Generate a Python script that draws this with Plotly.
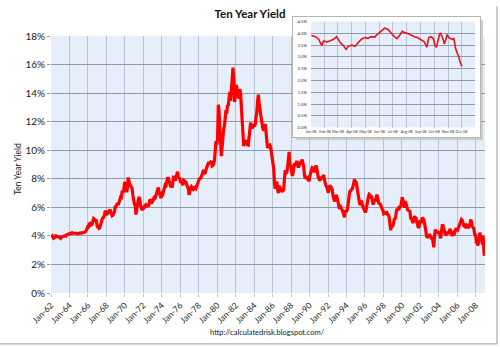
import plotly.graph_objects as go
import pandas as pd

# ---------------- data ----------------
# Monthly ten-year yield, Jan 1962 .. Dec 2007 (percent)
y1962 = [4.08, 4.04, 3.93, 3.84, 3.87, 3.91, 4.01, 3.98, 3.98, 3.93, 3.92, 3.86]
y1963 = [3.83, 3.92, 3.93, 3.97, 3.93, 3.99, 4.02, 4.00, 4.08, 4.11, 4.12, 4.13]
y1964 = [4.17, 4.15, 4.22, 4.23, 4.20, 4.17, 4.19, 4.19, 4.20, 4.19, 4.15, 4.18]
y1965 = [4.19, 4.21, 4.21, 4.20, 4.21, 4.21, 4.20, 4.25, 4.29, 4.35, 4.45, 4.62]
y1966 = [4.61, 4.83, 4.87, 4.75, 4.78, 4.81, 5.02, 5.22, 5.18, 5.01, 5.16, 4.84]
y1967 = [4.58, 4.63, 4.54, 4.59, 4.85, 5.02, 5.16, 5.28, 5.30, 5.48, 5.75, 5.70]
y1968 = [5.53, 5.56, 5.74, 5.64, 5.87, 5.72, 5.50, 5.42, 5.46, 5.58, 5.70, 6.03]
y1969 = [6.04, 6.19, 6.30, 6.17, 6.32, 6.57, 6.72, 6.69, 7.16, 7.10, 7.14, 7.65]
y1970 = [7.79, 7.24, 7.07, 7.39, 8.10, 7.84, 7.46, 7.53, 7.39, 7.33, 6.84, 6.39]
y1971 = [6.24, 6.11, 5.50, 5.83, 6.39, 6.52, 6.73, 6.58, 6.14, 5.93, 5.81, 5.93]
y1972 = [5.95, 6.08, 6.07, 6.19, 6.13, 6.11, 6.11, 6.21, 6.55, 6.48, 6.28, 6.36]
y1973 = [6.46, 6.64, 6.71, 6.67, 6.85, 6.90, 7.13, 7.40, 7.09, 6.79, 6.73, 6.74]
y1974 = [6.99, 6.96, 7.21, 7.51, 7.58, 7.54, 7.81, 8.04, 8.04, 7.90, 7.68, 7.43]
y1975 = [7.50, 7.39, 7.73, 8.23, 8.06, 7.86, 8.06, 8.40, 8.50, 8.14, 8.05, 8.00]
y1976 = [7.74, 7.79, 7.73, 7.56, 7.90, 7.86, 7.83, 7.77, 7.59, 7.41, 7.29, 6.87]
y1977 = [7.21, 7.39, 7.46, 7.37, 7.46, 7.28, 7.33, 7.40, 7.34, 7.52, 7.58, 7.69]
y1978 = [7.96, 8.03, 8.04, 8.15, 8.35, 8.46, 8.64, 8.41, 8.42, 8.64, 8.81, 9.01]
y1979 = [9.10, 9.10, 9.12, 9.18, 9.25, 8.91, 8.95, 9.03, 9.33, 10.30, 10.65, 10.39]
y1980 = [10.80, 13.20, 12.75, 11.47, 10.18, 9.60, 10.25, 11.10, 11.51, 11.75, 12.68, 12.84]
y1981 = [12.57, 13.19, 13.12, 13.68, 14.10, 13.47, 14.28, 14.94, 15.80, 15.15, 13.39, 13.72]
y1982 = [14.59, 14.43, 13.86, 13.87, 13.62, 14.30, 13.95, 13.06, 12.34, 10.91, 10.30, 10.54]
y1983 = [10.46, 10.72, 10.51, 10.40, 10.38, 10.85, 11.38, 11.95, 11.65, 11.54, 11.69, 11.83]
y1984 = [11.67, 11.84, 12.32, 12.63, 13.41, 13.90, 13.36, 12.72, 12.52, 12.16, 11.57, 11.50]
y1985 = [11.38, 11.51, 11.86, 11.43, 10.85, 10.16, 10.31, 10.33, 10.37, 10.24, 9.78, 9.26]
y1986 = [9.19, 8.70, 7.78, 7.30, 7.71, 7.80, 7.30, 7.00, 7.45, 7.43, 7.25, 7.11]
y1987 = [7.08, 7.25, 7.25, 8.02, 8.61, 8.40, 8.45, 8.76, 9.42, 9.90, 8.86, 8.99]
y1988 = [8.67, 8.21, 8.37, 8.72, 9.09, 8.92, 9.06, 9.26, 8.98, 8.80, 8.96, 9.11]
y1989 = [9.09, 9.17, 9.36, 9.18, 8.86, 8.28, 8.02, 8.11, 8.19, 8.01, 7.87, 7.84]
y1990 = [8.21, 8.47, 8.59, 8.79, 8.76, 8.48, 8.47, 8.75, 8.95, 8.72, 8.39, 8.08]
y1991 = [8.09, 7.85, 8.11, 8.04, 8.07, 8.28, 8.27, 7.90, 7.65, 7.53, 7.42, 7.09]
y1992 = [7.03, 7.34, 7.54, 7.48, 7.39, 7.26, 6.84, 6.59, 6.42, 6.59, 6.87, 6.77]
y1993 = [6.60, 6.26, 5.98, 5.97, 6.04, 5.96, 5.81, 5.68, 5.36, 5.30, 5.72, 5.77]
y1994 = [5.75, 5.97, 6.48, 6.97, 7.18, 7.10, 7.30, 7.24, 7.46, 7.74, 7.96, 7.81]
y1995 = [7.78, 7.47, 7.20, 7.06, 6.63, 6.17, 6.28, 6.49, 6.20, 6.04, 5.93, 5.71]
y1996 = [5.65, 5.81, 6.27, 6.51, 6.74, 6.91, 6.87, 6.64, 6.83, 6.53, 6.20, 6.30]
y1997 = [6.58, 6.42, 6.69, 6.89, 6.71, 6.49, 6.22, 6.30, 6.21, 6.03, 5.88, 5.81]
y1998 = [5.54, 5.57, 5.65, 5.64, 5.65, 5.50, 5.46, 5.34, 4.81, 4.40, 4.83, 4.65]
y1999 = [4.72, 5.00, 5.23, 5.18, 5.54, 5.90, 5.79, 5.94, 5.92, 6.11, 6.03, 6.28]
y2000 = [6.72, 6.52, 6.26, 5.99, 6.44, 6.10, 6.05, 5.83, 5.80, 5.74, 5.72, 5.24]
y2001 = [5.16, 5.10, 4.89, 5.14, 5.39, 5.28, 5.24, 4.97, 4.73, 4.57, 4.65, 5.09]
y2002 = [5.04, 4.91, 5.28, 5.21, 5.16, 4.93, 4.65, 4.26, 3.87, 3.94, 4.05, 4.03]
y2003 = [4.05, 3.90, 3.81, 3.96, 3.57, 3.20, 3.98, 4.45, 4.27, 4.29, 4.30, 4.27]
y2004 = [4.15, 4.08, 3.83, 4.35, 4.72, 4.73, 4.50, 4.28, 4.13, 4.10, 4.19, 4.23]
y2005 = [4.22, 4.17, 4.50, 4.34, 4.14, 4.00, 4.18, 4.26, 4.20, 4.46, 4.54, 4.47]
y2006 = [4.42, 4.57, 4.72, 4.99, 5.11, 5.15, 5.09, 4.88, 4.72, 4.73, 4.60, 4.56]
y2007 = [4.76, 4.72, 4.56, 4.69, 4.75, 5.15, 5.00, 4.67, 4.52, 4.53, 4.15, 4.10]

monthly_yield = (y1962 + y1963 + y1964 + y1965 + y1966 + y1967 + y1968 + y1969 +
                 y1970 + y1971 + y1972 + y1973 + y1974 + y1975 + y1976 + y1977 +
                 y1978 + y1979 + y1980 + y1981 + y1982 + y1983 + y1984 + y1985 +
                 y1986 + y1987 + y1988 + y1989 + y1990 + y1991 + y1992 + y1993 +
                 y1994 + y1995 + y1996 + y1997 + y1998 + y1999 + y2000 + y2001 +
                 y2002 + y2003 + y2004 + y2005 + y2006 + y2007)
monthly_dates = pd.date_range("1962-01-01", periods=len(monthly_yield), freq="MS") + pd.Timedelta(days=14)

# 2008 detail (inset)
dates_2008 = ["2008-01-02", "2008-01-11", "2008-01-18", "2008-01-25", "2008-01-29",
              "2008-02-05", "2008-02-12", "2008-02-20", "2008-02-27", "2008-03-06",
              "2008-03-13", "2008-03-19", "2008-03-24", "2008-04-01", "2008-04-08",
              "2008-04-15", "2008-04-22", "2008-04-30", "2008-05-07", "2008-05-14",
              "2008-05-22", "2008-05-27", "2008-06-02", "2008-06-09", "2008-06-13",
              "2008-06-20", "2008-06-27", "2008-07-03", "2008-07-10", "2008-07-16",
              "2008-07-22", "2008-07-28", "2008-08-04", "2008-08-11", "2008-08-18",
              "2008-08-25", "2008-09-02", "2008-09-09", "2008-09-15", "2008-09-19",
              "2008-09-24", "2008-09-29", "2008-10-03", "2008-10-06", "2008-10-13",
              "2008-10-15", "2008-10-21", "2008-10-24", "2008-10-30", "2008-11-03",
              "2008-11-10", "2008-11-14", "2008-11-18", "2008-11-21", "2008-11-25",
              "2008-11-28", "2008-12-02"]
yield_2008 = [3.91, 3.86, 3.75, 3.48, 3.68,
              3.64, 3.68, 3.75, 3.86, 3.61,
              3.48, 3.32, 3.45, 3.50, 3.45,
              3.59, 3.75, 3.82, 3.79, 3.86,
              3.84, 3.95, 4.05, 4.13, 4.22,
              4.18, 4.02, 3.89, 3.78, 3.91,
              4.09, 4.02, 3.99, 3.91, 3.86,
              3.82, 3.72, 3.64, 3.41, 3.82,
              3.86, 3.78, 3.48, 3.41, 3.95,
              4.02, 3.75, 3.55, 3.95, 3.82,
              3.75, 3.78, 3.34, 3.20, 3.00,
              2.77, 2.60]

main_x = list(monthly_dates.strftime("%Y-%m-%d")) + dates_2008
main_y = monthly_yield + yield_2008

main_ticks = [f"{y}-01-01" for y in range(1962, 2009, 2)]
inset_ticks = [f"2008-{m:02d}-01" for m in range(1, 13)]

title_text = "Ten Year Yield"
source_text = "http://calculatedrisk.blogspot.com/"

# ---------------- geometry ----------------
W, H = 500, 347
ML, MR, MT, MB = 51, 15, 10, 54
PW, PH = W - ML - MR, H - MT - MB

def px(x):
    return (x - ML) / PW

def py(y):
    return (H - MB - y) / PH

FONT = "Lato"
BLUE_BG = "#e6eef9"
VGRID = "#b9c3d4"
HGRID = "#8d99ad"

fig = go.Figure()

fig.add_trace(go.Scatter(x=main_x, y=main_y, mode="lines",
                         line=dict(color="#ff0000", width=3.2),
                         xaxis="x", yaxis="y", showlegend=False, hoverinfo="skip"))

# invisible trace for the inset's white box
fig.add_trace(go.Scatter(x=[0], y=[0], mode="markers", marker=dict(opacity=0),
                         xaxis="x2", yaxis="y2", showlegend=False, hoverinfo="skip"))

fig.add_trace(go.Scatter(x=dates_2008, y=yield_2008, mode="lines",
                         line=dict(color="#e8141c", width=1.6),
                         xaxis="x3", yaxis="y3", showlegend=False, hoverinfo="skip"))

main_top = py(30.7)
fig.update_layout(
    width=W, height=H,
    margin=dict(l=ML, r=MR, t=MT, b=MB),
    paper_bgcolor="white",
    plot_bgcolor="white",
    font=dict(family=FONT, color="#111111"),
    title=dict(text="<b>" + title_text + "</b>", x=0.5, xref="container",
               y=1 - 14 / H, yref="container", yanchor="middle", xanchor="center",
               font=dict(size=11.5, family=FONT, color="#111111")),
    xaxis=dict(domain=[0, 1], type="date", range=["1962-01-01", "2009-01-01"],
               tickvals=main_ticks, tickformat="%b-%y", tickangle=-45,
               tickfont=dict(size=8.5, color="#222222"),
               showgrid=True, gridcolor=VGRID, gridwidth=1,
               ticks="outside", ticklen=3, tickcolor=VGRID,
               showline=False, zeroline=False),
    yaxis=dict(domain=[0, main_top], range=[0, 18], dtick=2, ticksuffix="%",
               tickfont=dict(size=10, color="#222222"),
               showgrid=True, gridcolor=HGRID, gridwidth=1,
               ticks="outside", ticklen=3, tickcolor=HGRID,
               showline=False, zeroline=False),
    xaxis2=dict(domain=[px(293), px(480)], range=[0, 1], showgrid=False,
                showticklabels=False, zeroline=False, showline=True, mirror=True,
                linecolor="#b5b5b5", linewidth=1, anchor="y2", fixedrange=True),
    yaxis2=dict(domain=[py(134), py(11)], range=[0, 1], showgrid=False,
                showticklabels=False, zeroline=False, showline=True, mirror=True,
                linecolor="#b5b5b5", linewidth=1, anchor="x2", fixedrange=True),
    xaxis3=dict(domain=[px(311), px(475)], type="date",
                range=["2008-01-01", "2008-12-31"], tickvals=inset_ticks,
                tickformat="%b-%y", tickangle=0, tickfont=dict(size=3.6, color="#333333"),
                showgrid=True, gridcolor=VGRID, gridwidth=0.8, zeroline=False,
                showline=False, anchor="y3", ticks="", ticklabelstandoff=1),
    yaxis3=dict(domain=[py(124), py(15.7)], range=[0, 4.5], dtick=0.5,
                tickformat=".1f", ticksuffix="%", tickfont=dict(size=4.3, color="#333333"),
                showgrid=True, gridcolor=HGRID, gridwidth=0.8, zeroline=False,
                showline=False, anchor="x3", ticks="", ticklabelstandoff=3),
)

shapes = [
    # main plot background
    dict(type="rect", xref="paper", yref="paper", x0=0, x1=1, y0=0, y1=main_top,
         fillcolor=BLUE_BG, line=dict(width=0), layer="below"),
    # inset shadow
    dict(type="rect", xref="paper", yref="paper", x0=px(296), x1=px(483),
         y0=py(137), y1=py(14), fillcolor="#cfcfcf", line=dict(width=0), layer="below"),
    # inset plot background
    dict(type="rect", xref="x3", yref="y3", x0="2008-01-01", x1="2008-12-31",
         y0=0, y1=4.5, fillcolor=BLUE_BG, line=dict(width=0), layer="below"),
    # outer frame (bottom and right edge)
    dict(type="line", xref="paper", yref="paper", x0=px(0), x1=px(497),
         y0=py(345), y1=py(345), line=dict(color="#9a9a9a", width=1)),
    dict(type="line", xref="paper", yref="paper", x0=px(497), x1=px(497),
         y0=py(0), y1=py(345), line=dict(color="#9a9a9a", width=1)),
]
fig.update_layout(shapes=shapes)

fig.add_annotation(text=title_text, xref="paper", yref="paper",
                   x=px(18), y=py(166), textangle=-90, showarrow=False,
                   font=dict(size=8.5, family=FONT, color="#222222"),
                   xanchor="center", yanchor="middle")
fig.add_annotation(text=source_text, xref="paper", yref="paper",
                   x=px(267), y=py(333), showarrow=False,
                   font=dict(size=7.5, family=FONT, color="#222222"),
                   xanchor="center", yanchor="middle")

fig.write_html("out.html")
